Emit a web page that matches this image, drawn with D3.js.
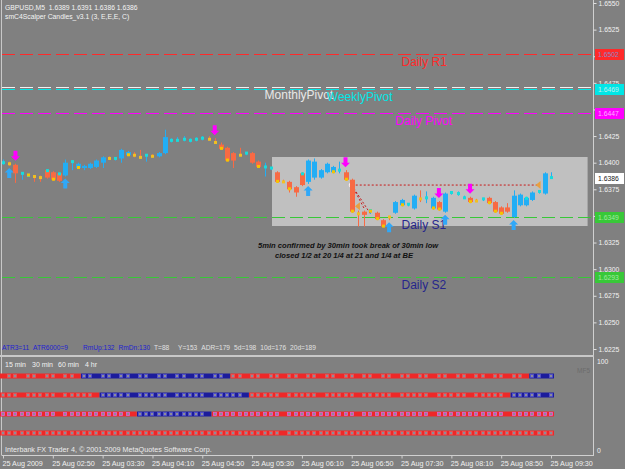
<!DOCTYPE html>
<html>
<head>
<meta charset="utf-8">
<script src="https://cdn.jsdelivr.net/npm/d3@7"></script>
<style>
body { margin: 0; background: #808080; }
svg { display: block; }
text { font-family: "Liberation Sans", Arial, sans-serif; }
</style>
</head>
<body>
<div id="chart"></div>
<script>
// GBPUSD M5 bars, 25 Aug 2009 02:10 .. 09:30
var opens = [1.6401,1.6399,1.6398,1.6391,1.6389,1.6388,1.6387,1.6393,1.6391,1.6390,
  1.6388,1.6399,1.6395,1.6395,1.6395,1.6396,1.6400,1.6405,1.6403,1.6404,
  1.6407,1.6408,1.6406,1.6406,1.6407,1.6406,1.6409,1.6420,1.6422,1.6421,
  1.6420,1.6421,1.6422,1.6423,1.6421,1.6417,1.6414,1.6409,1.6408,1.6408,
  1.6409,1.6401,1.6395,1.6394,1.6391,1.6383,1.6382,1.6377,1.6390,1.6382,
  1.6386,1.6386,1.6391,1.6391,1.6392,1.6391,1.6384,1.6353,1.6354,1.6354,
  1.6353,1.6346,1.6347,1.6353,1.6360,1.6360,1.6357,1.6367,1.6366,1.6357,
  1.6363,1.6354,1.6371,1.6370,1.6368,1.6367,1.6365,1.6365,1.6367,1.6363,
  1.6358,1.6358,1.6349,1.6360,1.6360,1.6365,1.6372,1.6371,1.6389];
var highs = [1.6403,1.6401,1.6399,1.6391,1.6390,1.6388,1.6388,1.6394,1.6392,1.6391,
  1.6403,1.6402,1.6400,1.6398,1.6400,1.6403,1.6406,1.6406,1.6405,1.6413,
  1.6411,1.6410,1.6412,1.6408,1.6408,1.6410,1.6431,1.6423,1.6424,1.6425,
  1.6423,1.6424,1.6425,1.6425,1.6423,1.6419,1.6415,1.6410,1.6414,1.6410,
  1.6410,1.6402,1.6400,1.6396,1.6392,1.6384,1.6383,1.6378,1.6391,1.6403,
  1.6404,1.6394,1.6400,1.6397,1.6401,1.6393,1.6385,1.6355,1.6355,1.6356,
  1.6354,1.6347,1.6350,1.6364,1.6366,1.6362,1.6370,1.6374,1.6373,1.6368,
  1.6364,1.6372,1.6373,1.6373,1.6369,1.6368,1.6366,1.6367,1.6368,1.6364,
  1.6359,1.6362,1.6374,1.6371,1.6368,1.6373,1.6374,1.6391,1.6391];
var lows = [1.6398,1.6397,1.6381,1.6384,1.6387,1.6382,1.6382,1.6385,1.6383,1.6382,
  1.6387,1.6393,1.6394,1.6393,1.6394,1.6395,1.6395,1.6403,1.6402,1.6400,
  1.6406,1.6405,1.6404,1.6401,1.6405,1.6405,1.6408,1.6419,1.6420,1.6420,
  1.6419,1.6420,1.6421,1.6421,1.6418,1.6412,1.6401,1.6395,1.6406,1.6407,
  1.6399,1.6395,1.6387,1.6393,1.6381,1.6381,1.6372,1.6368,1.6378,1.6380,
  1.6384,1.6385,1.6390,1.6390,1.6390,1.6383,1.6353,1.6340,1.6340,1.6352,
  1.6346,1.6339,1.6346,1.6352,1.6359,1.6359,1.6356,1.6363,1.6362,1.6356,
  1.6355,1.6353,1.6370,1.6369,1.6366,1.6362,1.6363,1.6364,1.6361,1.6353,
  1.6351,1.6353,1.6348,1.6359,1.6359,1.6364,1.6371,1.6370,1.6386];
var closes = [1.6400,1.6399,1.6390,1.6390,1.6388,1.6387,1.6386,1.6386,1.6384,1.6383,
  1.6400,1.6401,1.6399,1.6397,1.6399,1.6402,1.6405,1.6404,1.6404,1.6412,
  1.6410,1.6407,1.6405,1.6407,1.6406,1.6409,1.6424,1.6421,1.6421,1.6422,
  1.6421,1.6422,1.6423,1.6422,1.6419,1.6413,1.6402,1.6402,1.6407,1.6409,
  1.6400,1.6396,1.6396,1.6395,1.6382,1.6382,1.6375,1.6372,1.6379,1.6402,
  1.6401,1.6393,1.6399,1.6396,1.6393,1.6384,1.6354,1.6352,1.6351,1.6355,
  1.6347,1.6340,1.6349,1.6363,1.6365,1.6361,1.6369,1.6366,1.6367,1.6367,
  1.6356,1.6371,1.6372,1.6371,1.6367,1.6363,1.6364,1.6366,1.6362,1.6354,
  1.6352,1.6354,1.6369,1.6370,1.6367,1.6372,1.6373,1.6390,1.6386];
// scalper candle colour per bar: B blue, R red, C cyan dot, Y yellow dot
var kinds = "C Y R C C Y Y R R R B C B B B B B Y C B B Y Y C Y B B C C C C C C Y Y R R R Y C R R C C R Y R R R B B B B B C R R Y R C R R Y B B C B Y C B R B C C C R Y C R R R R B B B B C B C".split(" ");
var marks = "----y--cyc--y-------y--------------yy----y--y-y-c----y-yy--yyy--y----yy----y--yyy---c----";
var upArrows = [1, 10, 49, 62, 71, 82];
var downArrows = [2, 34, 55, 70, 75];

var timeLabels = ["25 Aug 2009", "25 Aug 02:50", "25 Aug 03:30", "25 Aug 04:10", "25 Aug 04:50", "25 Aug 05:30",
  "25 Aug 06:10", "25 Aug 06:50", "25 Aug 07:30", "25 Aug 08:10", "25 Aug 08:50", "25 Aug 09:30"];

var levelNames = ["Daily R1", "MonthlyPivot", "WeeklyPivot", "Daily Pivot", "Daily S1", "Daily S2"];
var levelValues = [1.6502, 1.6471, 1.6469, 1.6447, 1.6349, 1.6293];
var levelColors = ["#ff2a2a", "#f2f2f2", "#00e6e6", "#ff00ff", "#38c838", "#38c838"];
var levelTextColors = ["#ff2a2a", "#e8e8e8", "#00e6e6", "#ff00ff", "#26268c", "#26268c"];
var levelLabelBar = [64, 42, 52, 63, 64, 64];

var lastPrice = 1.6386;

// trend runs in the lower panel [firstBar, lastBar, dir]
var tfNames = ["15 min", "30 min", "60 min", "4 hr"];
var tfMinutes = [15, 30, 60, 240];
var tfRuns = [
  [[0, 12, "dn"], [13, 36, "up"], [37, 84, "dn"], [85, 88, "up"]],
  [[0, 15, "dn"], [16, 39, "up"], [40, 81, "dn"], [82, 88, "up"]],
  [[0, 21, "dn"], [22, 33, "up"], [34, 88, "dn"]],
  [[0, 88, "dn"]]
];

var infoGroups = [["ATR3=11", "ATR6000=9"], ["RmUp:132", "RmDn:130"], ["T=88"],
  ["Y=153", "ADR=179", "5d=198", "10d=176", "20d=189"]];
var infoColors = ["#2222d0", "#2222d0", "#e0e0e0", "#e0e0e0"];
var infoX = [2, 83, 154, 178];

var width = 625, height = 469;
var axisX = 593;

var svg = d3.select("#chart").append("svg").attr("width", width).attr("height", height);
svg.append("rect").attr("width", width).attr("height", height).attr("fill", "#808080");

var x = d3.scaleLinear().domain([0, 88]).range([3, 551]);
var y = d3.scaleLinear().domain([1.6225, 1.6550]).range([349, 3]);

var barMinutes = function(i) { return 130 + 5 * i; }; // minutes after midnight

// gray box object
svg.append("rect")
  .attr("x", Math.round(x(43)) + 1).attr("y", Math.round(y(1.6405)))
  .attr("width", x(94) - x(43) - 2).attr("height", Math.round(y(1.6340) - y(1.6405)))
  .attr("fill", "#c0c0c0");

// level lines
levelValues.forEach(function(v, k) {
  svg.append("line")
    .attr("x1", 2).attr("x2", axisX)
    .attr("y1", Math.round(y(v)) + 0.5).attr("y2", Math.round(y(v)) + 0.5)
    .attr("stroke", levelColors[k]).attr("stroke-width", 1)
    .attr("stroke-dasharray", "13,5");
  svg.append("text")
    .attr("x", x(levelLabelBar[k])).attr("y", y(v) + 12)
    .attr("fill", levelTextColors[k]).style("font-size", "12px")
    .text(levelNames[k]);
});

// break line objects
var breakBar = 56, breakPrice = 1.6379;
svg.append("line")
  .attr("x1", x(breakBar)).attr("x2", x(86))
  .attr("y1", y(breakPrice)).attr("y2", y(breakPrice))
  .attr("stroke", "#c81818").attr("stroke-dasharray", "2,2");
[[58, 1.6357], [59, 1.6352]].forEach(function(p) {
  svg.append("line")
    .attr("x1", x(breakBar)).attr("y1", y(breakPrice))
    .attr("x2", x(p[0])).attr("y2", y(p[1]))
    .attr("stroke", "#c81818").attr("stroke-dasharray", "2,2");
});
[[86, breakPrice], [57, 1.6359]].forEach(function(p) {
  svg.append("path")
    .attr("d", "M" + (x(p[0]) - 3) + "," + y(p[1]) + "l5,-4l0,8z")
    .attr("fill", "#e8a040");
});
svg.append("circle").attr("cx", x(breakBar)).attr("cy", y(breakPrice)).attr("r", 2.5)
  .attr("fill", "#e02020").attr("stroke", "#ffffff").attr("stroke-width", 1);

// candles
var colorOf = { B: "#22aef5", R: "#f86a44", C: "#18dcdc", Y: "#f2c020" };
var wickOf = { B: "#22aef5", R: "#f86a44", C: "#22aef5", Y: "#f86a44" };
var bars = opens.map(function(o, i) {
  return { i: i, o: o, h: highs[i], l: lows[i], c: closes[i], k: kinds[i], m: marks[i] };
});

var g = svg.append("g");
g.selectAll("line.wick").data(bars).enter().append("line")
  .attr("class", "wick")
  .attr("x1", function(d) { return Math.round(x(d.i)) + 0.5; })
  .attr("x2", function(d) { return Math.round(x(d.i)) + 0.5; })
  .attr("y1", function(d) { return y(d.h); })
  .attr("y2", function(d) { return y(d.l); })
  .attr("stroke", function(d) { return wickOf[d.k]; });

g.selectAll("rect.body").data(bars).enter().append("rect")
  .attr("class", "body")
  .attr("x", function(d) { return Math.round(x(d.i)) - (d.k == "B" || d.k == "R" ? 2 : 1); })
  .attr("width", function(d) { return d.k == "B" || d.k == "R" ? 5 : 3; })
  .attr("y", function(d) {
    if (d.k == "B" || d.k == "R") return y(Math.max(d.o, d.c));
    return y(d.c) - 1.5;
  })
  .attr("height", function(d) {
    if (d.k == "B" || d.k == "R") return Math.max(2, Math.abs(y(d.o) - y(d.c)));
    return 3;
  })
  .attr("fill", function(d) { return colorOf[d.k]; });

g.selectAll("rect.mark").data(bars.filter(function(d) { return d.m != "-"; })).enter().append("rect")
  .attr("class", "mark")
  .attr("x", function(d) { return Math.round(x(d.i)) - 1; })
  .attr("y", function(d) {
    return d.m == "y" ? y(Math.min(d.o, d.c)) - 2 : y(Math.max(d.o, d.c)) - 1;
  })
  .attr("width", 3).attr("height", 3)
  .attr("fill", function(d) { return d.m == "y" ? "#f5c400" : "#10e0e0"; });

// arrows
var upPath = "M0,0l4.5,4.5l-2.5,0l0,5.5l-4,0l0,-5.5l-2.5,0z";
g.selectAll("path.up").data(upArrows).enter().append("path")
  .attr("d", upPath)
  .attr("transform", function(i) { return "translate(" + x(i) + "," + (y(lows[i]) + 2) + ")"; })
  .attr("fill", "#30a8f8");
g.selectAll("path.dn").data(downArrows).enter().append("path")
  .attr("d", upPath)
  .attr("transform", function(i) { return "translate(" + x(i) + "," + (y(highs[i]) - 3) + ") scale(1,-1)"; })
  .attr("fill", "#ff00ff");

// annotation
svg.append("text").attr("x", 258).attr("y", 247.5)
  .style("font-size", "7.6px").style("font-weight", "bold").style("font-style", "italic")
  .attr("fill", "#111").text("5min confirmed by 30min took break of 30min low");
svg.append("text").attr("x", 275).attr("y", 257.5)
  .style("font-size", "7.6px").style("font-weight", "bold").style("font-style", "italic")
  .attr("fill", "#111").text("closed 1/2 at 20 1/4 at 21 and 1/4 at BE");

// header
svg.append("text").attr("x", 5).attr("y", 10).attr("fill", "#f4f4f4").style("font-size", "6.8px")
  .attr("xml:space", "preserve").text("GBPUSD,M5  1.6389 1.6391 1.6386 1.6386");
svg.append("text").attr("x", 5).attr("y", 18.5).attr("fill", "#f4f4f4").style("font-size", "6.8px")
  .text("smC4Scalper Candles_v3.1 (3, E,E,E, C)");

// info line, items laid out one after another inside each group
infoGroups.forEach(function(grp, k) {
  var cx = infoX[k];
  grp.forEach(function(t) {
    var el = svg.append("text").attr("x", cx).attr("y", 350).attr("fill", infoColors[k])
      .style("font-size", "6.6px").text(t);
    cx += el.node().getComputedTextLength() + 4;
  });
});

// frame lines
svg.append("line").attr("x1", 1.5).attr("x2", 1.5).attr("y1", 0).attr("y2", 455)
  .attr("stroke", "#c8c8c8");
svg.append("line").attr("x1", axisX + 0.5).attr("x2", axisX + 0.5).attr("y1", 0).attr("y2", 456)
  .attr("stroke", "#d0d0d0");
svg.append("rect").attr("x", 0).attr("y", 355).attr("width", axisX + 1).attr("height", 2)
  .attr("fill", "#c8c8c8");

// price axis (labels hidden under the level price boxes, as on the terminal)
var hiddenTicks = ["1.6500", "1.6450", "1.6350"];
var yAxis = d3.axisRight(y)
  .tickValues(d3.range(0, 14).map(function(k) { return 1.6225 + k * 0.0025; }))
  .tickFormat(d3.format(".4f")).tickSize(3).tickPadding(2);
var ya = svg.append("g").attr("transform", "translate(" + (axisX + 0.5) + ",0)").call(yAxis);
ya.select(".domain").remove();
ya.selectAll("line").attr("stroke", "#e0e0e0");
ya.selectAll("text").attr("fill", "#f0f0f0").style("font-size", "6.8px")
  .style("font-family", "Liberation Sans, Arial, sans-serif")
  .filter(function() { return hiddenTicks.indexOf(this.textContent) >= 0; }).remove();

// price labels for levels
function priceBox(v, fill, ink) {
  var yy = Math.round(y(v));
  svg.append("rect").attr("x", axisX + 2).attr("y", yy - 5).attr("width", 29).attr("height", 11).attr("fill", fill);
  svg.append("text").attr("x", axisX + 5).attr("y", yy + 3).attr("fill", ink)
    .style("font-size", "6.8px").text(d3.format(".4f")(v));
}
priceBox(levelValues[0], "#ff2a2a", "#8a88c8");
priceBox(levelValues[2], "#00e6e6", "#c0f0f0");
priceBox(levelValues[3], "#ff00ff", "#ffb0ff");
priceBox(levelValues[4], "#38c838", "#a0e8a0");
priceBox(levelValues[5], "#38c838", "#a0e8a0");
priceBox(lastPrice, "#ffffff", "#202020");

// lower panel
var rowY = d3.scalePoint().domain(tfNames).range([376, 433]);
var tfX = [5, 32, 58, 85];
tfNames.forEach(function(n, k) {
  svg.append("text").attr("x", tfX[k]).attr("y", 367).attr("fill", "#f0f0f0")
    .style("font-size", "7px").attr("xml:space", "preserve").text(n);
});
var trendColor = { up: "#1c1c9c", dn: "#ee2828" };
var hollowStroke = { up: "#5050d0", dn: "#f05050" };
tfRuns.forEach(function(runs, k) {
  var ry = rowY(tfNames[k]);
  var row = svg.append("g");
  runs.forEach(function(r) {
    row.append("rect")
      .attr("x", x(r[0]) - 3).attr("width", x(r[1]) - x(r[0]) + 6)
      .attr("y", ry - 2.5).attr("height", 5)
      .attr("fill", trendColor[r[2]]);
    var idx = d3.range(r[0], r[1] + 1).filter(function(i) {
      var m = barMinutes(i) + 5;
      return k == 3 ? (m + 120) % 240 != 0 : m % tfMinutes[k] != 0;
    });
    row.selectAll(null).data(idx).enter().append("rect")
      .attr("x", function(i) { return Math.round(x(i)) - 1.5; })
      .attr("y", ry - 1.5).attr("width", 3).attr("height", 3)
      .attr("fill", "#8c8c98")
      .attr("stroke", k == 2 && r[2] == "dn" ? "#e060d0" : hollowStroke[r[2]])
      .attr("stroke-width", 0.8);
  });
});
svg.append("text").attr("x", 577).attr("y", 373).attr("fill", "#6c6c6c").style("font-size", "6.5px").text("MF5");
svg.append("text").attr("x", axisX + 4).attr("y", 364).attr("fill", "#f0f0f0").style("font-size", "6.8px").text("100");
svg.append("text").attr("x", axisX + 4).attr("y", 453).attr("fill", "#f0f0f0").style("font-size", "6.8px").text("0");

// footer
svg.append("text").attr("x", 5).attr("y", 452).attr("fill", "#ececec").style("font-size", "7.2px")
  .text("Interbank FX Trader 4, \u00a9 2001-2009 MetaQuotes Software Corp.");

// time axis
var tickBars = d3.range(0, 89, 8);
var xAxis = d3.axisBottom(x).tickValues(tickBars)
  .tickFormat(function(d, i) { return timeLabels[i]; }).tickSize(3).tickPadding(2);
var xa = svg.append("g").attr("transform", "translate(0,455.5)").call(xAxis);
xa.select(".domain").attr("stroke", "#d0d0d0").attr("d", "M1.5,0H" + (axisX + 0.5));
xa.selectAll("line").attr("stroke", "#d0d0d0");
xa.selectAll("text").attr("fill", "#f0f0f0").attr("text-anchor", "start").attr("dx", "-1")
  .style("font-size", "7.2px").style("font-family", "Liberation Sans, Arial, sans-serif");
</script>
</body>
</html>
